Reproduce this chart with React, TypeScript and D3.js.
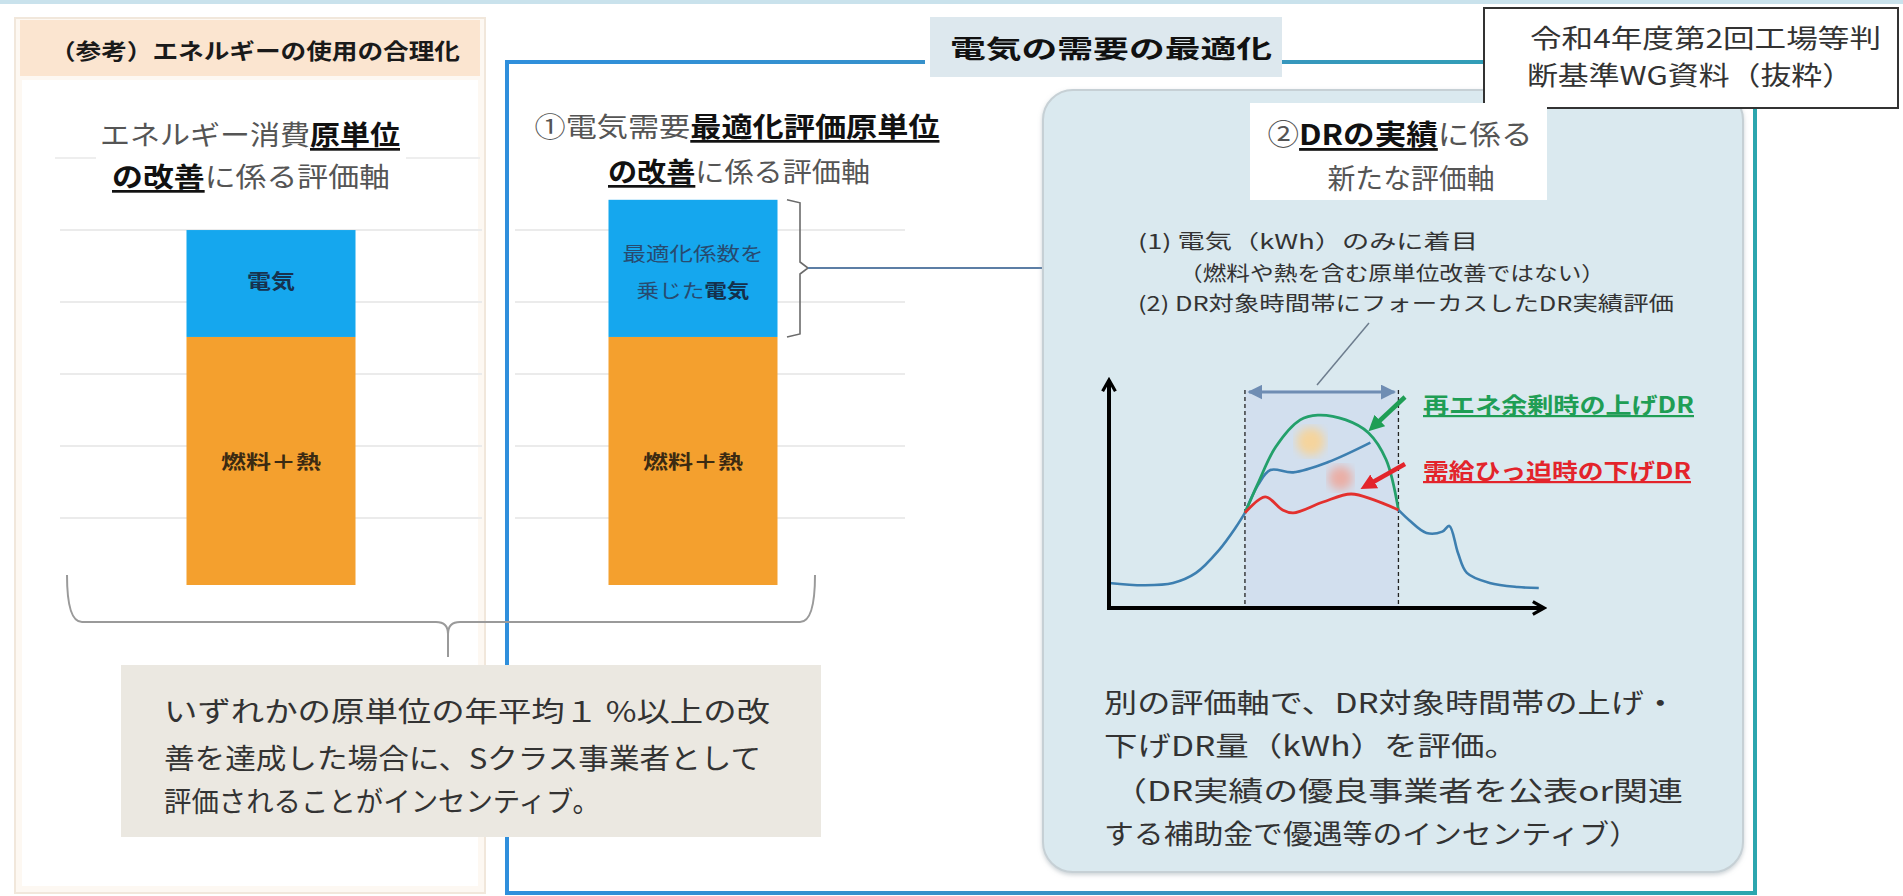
import React from 'react';
import * as d3 from 'd3';

const W = 1903;
const H = 896;
const FONT = '"Noto Sans CJK JP", "Noto Sans", sans-serif';

// ---- bar data (relative units) ----
const barCategories = ['energy', 'optimized'];
const fuelHeat = [68.9, 68.9];
const electricity = [29.7, 38.1];
const barLabelsElec = [['電気'], ['最適化係数を', '乗じた電気']];
const fuelLabel = '燃料＋熱';
const gridValues = [18.6, 38.6, 58.6, 78.6, 98.6];

// ---- DR load curve data: [hour, load] ----
const baseBefore: [number, number][] = [[0, 11], [2, 10], [3.65, 11], [4.96, 15.4], [6.27, 25.4], [7.24, 35.5], [7.75, 41.7]];
const baseDuring: [number, number][] = [[7.75, 41.7], [8.5, 54], [9.2, 60.5], [10.5, 59.5], [12.5, 64], [14.9, 72.5]];
const baseAfter: [number, number][] = [[16.5, 43], [17.1, 38.6], [18.1, 32.9], [19.0, 33.5], [19.4, 36], [19.9, 24], [20.4, 15.4], [21.7, 11], [23.3, 9.2], [24.5, 8.8]];
const upDR: [number, number][] = [[7.75, 41.7], [8.5, 54.8], [9.5, 70.6], [10.9, 82.5], [11.9, 84.6], [13.5, 82.5], [14.8, 76.8], [15.8, 65], [16.5, 43]];
const downDR: [number, number][] = [[7.75, 41.7], [8.9, 48.7], [9.9, 43], [10.5, 41.7], [12.2, 46.5], [13.8, 50], [15.1, 47.4], [16.5, 43]];
const drWindow = [7.75, 16.5];
const axisMax: [number, number] = [24.8, 100];

// ---- texts ----
const leftHeader = '（参考）エネルギーの使用の合理化';
const rightHeader = '電気の需要の最適化';
const noteLines = ['令和4年度第2回工場等判', '断基準WG資料（抜粋）'];
const leftBoxLines = ['いずれかの原単位の年平均１ %以上の改', '善を達成した場合に、Sクラス事業者として', '評価されることがインセンティブ。'];
const rightBoxLines = ['別の評価軸で、DR対象時間帯の上げ・', '下げDR量（kWh）を評価。', '（DR実績の優良事業者を公表or関連', 'する補助金で優遇等のインセンティブ）'];
const pointLines = ['(1) 電気（kWh）のみに着目', '（燃料や熱を含む原単位改善ではない）', '(2) DR対象時間帯にフォーカスしたDR実績評価'];
const upLabel = '再エネ余剰時の上げDR';
const downLabel = '需給ひっ迫時の下げDR';

const GRAY = '#555';
const DARK = '#111';

function T(props: any) {
  const { x, y, size, len, anchor = 'start', weight = 400, fill = '#333', children } = props;
  return (
    <text x={x} y={y} fontSize={size} fontFamily={FONT} fontWeight={weight} fill={fill}
      textAnchor={anchor} dominantBaseline="central"
      textLength={len} lengthAdjust={len ? 'spacingAndGlyphs' : undefined}>
      {children}
    </text>
  );
}

export default function App() {
  const yBar = d3.scaleLinear().domain([0, 100]).range([585, 225]);
  const xBar = d3.scalePoint<string>().domain(barCategories).range([271, 693]);
  const barW = 169;

  const xDR = d3.scaleLinear().domain([0, 24]).range([1109, 1530]);
  const yDR = d3.scaleLinear().domain([0, 100]).range([608, 380]);
  const line = d3.line<[number, number]>().x(d => xDR(d[0])).y(d => yDR(d[1])).curve(d3.curveCatmullRom.alpha(0.5));

  const x0 = xDR(0), y0 = yDR(0);
  const wx0 = xDR(drWindow[0]), wx1 = xDR(drWindow[1]);

  return (
    <svg width={W} height={H} style={{ position: 'absolute', left: 0, top: 0, background: '#fff' }}>
      <defs>
        <linearGradient id="frameGrad" gradientUnits="userSpaceOnUse" x1="505" y1="0" x2="1757" y2="0">
          <stop offset="0" stopColor="#2f8fdc" />
          <stop offset="0.5" stopColor="#3a92c2" />
          <stop offset="1" stopColor="#2ca6ae" />
        </linearGradient>
        <marker id="chev" viewBox="0 0 10 10" refX="8" refY="5" markerWidth="4" markerHeight="4" orient="auto">
          <path d="M1,1 L8,5 L1,9" fill="none" stroke="#000" strokeWidth="2" />
        </marker>
        <marker id="steel" viewBox="0 0 10 10" refX="9" refY="5" markerWidth="5" markerHeight="5" orient="auto-start-reverse">
          <path d="M0,0 L10,5 L0,10 z" fill="#6f8db3" />
        </marker>
        <marker id="steelSmall" viewBox="0 0 10 10" refX="9" refY="5" markerWidth="7" markerHeight="7" orient="auto">
          <path d="M0,1 L10,5 L0,9 z" fill="#5c80a8" />
        </marker>
        <marker id="greenHead" viewBox="0 0 10 10" refX="6" refY="5" markerWidth="3.5" markerHeight="3.5" orient="auto">
          <path d="M0,0 L10,5 L0,10 z" fill="#1f9e55" />
        </marker>
        <marker id="redHead" viewBox="0 0 10 10" refX="6" refY="5" markerWidth="3.5" markerHeight="3.5" orient="auto">
          <path d="M0,0 L10,5 L0,10 z" fill="#e3242b" />
        </marker>
        <filter id="blur6"><feGaussianBlur stdDeviation="5" /></filter>
        <filter id="shadow" x="-5%" y="-5%" width="110%" height="110%">
          <feDropShadow dx="0" dy="2" stdDeviation="2" floodColor="#9aa6ad" floodOpacity="0.5" />
        </filter>
      </defs>

      {/* top band */}
      <rect x={0} y={0} width={W} height={4} fill="#c9e2ec" />

      {/* ===== left panel ===== */}
      <rect x={15} y={18} width={470} height={875} fill="#fdf8f2" stroke="#f1e7db" strokeWidth={2} />
      <rect x={22} y={80} width={456} height={806} fill="#ffffff" />
      <rect x={20} y={20} width={460} height={56} fill="#fbe5d0" />
      <T x={255} y={49} size={22} len={410} anchor="middle" weight={700} fill="#1a1a1a">{leftHeader}</T>

      {/* grid lines */}
      <line x1={55} x2={480} y1={158} y2={158} stroke="#eeeeee" strokeWidth={2} />
      {gridValues.map((v, i) => (
        <g key={i}>
          <line x1={60} x2={482} y1={yBar(v)} y2={yBar(v)} stroke="#ebebeb" strokeWidth={2} />
          <line x1={515} x2={905} y1={yBar(v)} y2={yBar(v)} stroke="#ebebeb" strokeWidth={2} />
        </g>
      ))}

      {/* left title */}
      <rect x={96} y={108} width={310} height={92} fill="#fff" />
      <text x={250} y={133} fontSize={27} fontFamily={FONT} textAnchor="middle" dominantBaseline="central" textLength={300} lengthAdjust="spacingAndGlyphs" fill={GRAY}>
        エネルギー消費<tspan fontWeight={700} fill={DARK} textDecoration="underline">原単位</tspan>
      </text>
      <text x={251} y={175} fontSize={27} fontFamily={FONT} textAnchor="middle" dominantBaseline="central" textLength={278} lengthAdjust="spacingAndGlyphs" fill={GRAY}>
        <tspan fontWeight={700} fill={DARK} textDecoration="underline">の改善</tspan>に係る評価軸
      </text>

      {/* ===== middle frame (blue) ===== */}
      <path d={`M925,62 L507,62 L507,893 L1755,893 L1755,108`} fill="none" stroke="url(#frameGrad)" strokeWidth={4} />
      <line x1={1282} x2={1486} y1={62} y2={62} stroke="url(#frameGrad)" strokeWidth={4} />

      {/* middle title */}
      <rect x={530} y={100} width={415} height={95} fill="#fff" opacity={0.9} />
      <text x={737} y={125} fontSize={27} fontFamily={FONT} textAnchor="middle" dominantBaseline="central" textLength={405} lengthAdjust="spacingAndGlyphs" fill={GRAY}>
        ①電気需要<tspan fontWeight={700} fill={DARK} textDecoration="underline">最適化評価原単位</tspan>
      </text>
      <text x={739} y={170} fontSize={27} fontFamily={FONT} textAnchor="middle" dominantBaseline="central" textLength={262} lengthAdjust="spacingAndGlyphs" fill={GRAY}>
        <tspan fontWeight={700} fill={DARK} textDecoration="underline">の改善</tspan>に係る評価軸
      </text>

      {/* bars */}
      {barCategories.map((c, i) => {
        const cx = xBar(c) as number;
        const fuelTop = yBar(fuelHeat[i]);
        const elecTop = yBar(fuelHeat[i] + electricity[i]);
        const labels = barLabelsElec[i];
        const elecMid = (fuelTop + elecTop) / 2;
        return (
          <g key={c}>
            <rect x={cx - barW / 2} y={fuelTop} width={barW} height={yBar(0) - fuelTop} fill="#f4a02e" />
            <rect x={cx - barW / 2} y={elecTop} width={barW} height={fuelTop - elecTop} fill="#15a7ee" />
            <T x={cx} y={(fuelTop + yBar(0)) / 2} size={19} len={100} anchor="middle" weight={700} fill="#3b2a12">{fuelLabel}</T>
            {labels.length === 1 ? (
              <T x={cx} y={elecMid - 3} size={20} len={48} anchor="middle" weight={700} fill="#17324e">{labels[0]}</T>
            ) : (
              <g>
                <T x={cx} y={elecMid - 16} size={19} len={141} anchor="middle" fill="#274b70">{labels[0]}</T>
                <text x={cx} y={elecMid + 21} fontSize={19} fontFamily={FONT} textAnchor="middle" dominantBaseline="central" textLength={113} lengthAdjust="spacingAndGlyphs" fill="#274b70">
                  乗じた<tspan fontWeight={700} fill="#14304c">電気</tspan>
                </text>
              </g>
            )}
          </g>
        );
      })}

      {/* bracket right of middle bar + arrow */}
      <path d={`M787,${yBar(fuelHeat[1] + electricity[1])} L800,${yBar(fuelHeat[1] + electricity[1]) + 3} L800,262 L808,268 L800,274 L800,${yBar(fuelHeat[1]) - 3} L787,${yBar(fuelHeat[1])}`} fill="none" stroke="#6b6b6b" strokeWidth={1.6} />
      <line x1={808} x2={1120} y1={268} y2={268} stroke="#5c7ea5" strokeWidth={2} markerEnd="url(#steelSmall)" />

      {/* bottom brace */}
      <path d="M67,575 Q67,622 82,622 L436,622 Q448,622 448,634 L448,657 M448,634 Q448,622 460,622 L800,622 Q815,622 815,575" fill="none" stroke="#9a9a9a" strokeWidth={2} />

      {/* bottom-left box */}
      <rect x={121} y={665} width={700} height={172} fill="#ebe8e1" />
      {leftBoxLines.map((s, i) => (
        <T key={i} x={164} y={[710, 757, 800][i]} size={28} len={[606, 597, 436][i]} fill="#333">{s}</T>
      ))}

      {/* ===== right panel ===== */}
      <rect x={930} y={17} width={352} height={60} fill="#dde8ee" />
      <T x={1111} y={47} size={25} len={322} anchor="middle" weight={700} fill="#111">{rightHeader}</T>

      <rect x={1043} y={90} width={700} height={782} rx={30} ry={30} fill="#dae9ef" stroke="#c6d0d5" strokeWidth={2} filter="url(#shadow)" />

      {/* note box */}
      <rect x={1484} y={8} width={414} height={100} fill="#fff" stroke="#333" strokeWidth={2} />
      <T x={1530} y={36} size={26} len={351} fill="#333">{noteLines[0]}</T>
      <T x={1527} y={73} size={26} len={326} fill="#333">{noteLines[1]}</T>

      {/* ② title */}
      <rect x={1250} y={103} width={297} height={97} fill="#fff" />
      <text x={1400} y={133} fontSize={28} fontFamily={FONT} textAnchor="middle" dominantBaseline="central" textLength={265} lengthAdjust="spacingAndGlyphs" fill={GRAY}>
        ②<tspan fontWeight={700} fill={DARK} textDecoration="underline">DRの実績</tspan>に係る
      </text>
      <T x={1411} y={177} size={28} len={167} anchor="middle" fill={GRAY}>新たな評価軸</T>

      {/* points */}
      <T x={1138} y={240} size={20} len={340} fill="#333">{pointLines[0]}</T>
      <T x={1179} y={272} size={20} len={426} fill="#333">{pointLines[1]}</T>
      <T x={1138} y={302} size={20} len={536} fill="#333">{pointLines[2]}</T>

      {/* DR chart */}
      <rect x={wx0} y={yDR(95.6)} width={wx1 - wx0} height={y0 - yDR(95.6)} fill="#cfdbee" opacity={0.75} />
      <line x1={wx0} x2={wx0} y1={yDR(95.6)} y2={y0} stroke="#222" strokeWidth={1.3} strokeDasharray="4 3" />
      <line x1={wx1} x2={wx1} y1={yDR(95.6)} y2={y0} stroke="#222" strokeWidth={1.3} strokeDasharray="4 3" />
      <line x1={wx0 + 4} x2={wx1 - 4} y1={yDR(94.7)} y2={yDR(94.7)} stroke="#6f8db3" strokeWidth={3} markerStart="url(#steel)" markerEnd="url(#steel)" />
      <line x1={1369} y1={323} x2={1317} y2={385} stroke="#6d7d8e" strokeWidth={1.5} />

      <circle cx={xDR(11.5)} cy={yDR(73)} r={14} fill="#f5d49c" filter="url(#blur6)" />
      <circle cx={xDR(13.2)} cy={yDR(57)} r={12} fill="#eaaea5" filter="url(#blur6)" />

      <path d={line(baseBefore) || ''} fill="none" stroke="#3d7fb0" strokeWidth={2.6} />
      <path d={line(baseDuring) || ''} fill="none" stroke="#3d7fb0" strokeWidth={2.6} />
      <path d={line(baseAfter) || ''} fill="none" stroke="#3d7fb0" strokeWidth={2.6} />
      <path d={line(upDR) || ''} fill="none" stroke="#23a06a" strokeWidth={2.8} />
      <path d={line(downDR) || ''} fill="none" stroke="#e3302e" strokeWidth={2.8} />

      <line x1={x0} y1={y0} x2={x0} y2={yDR(axisMax[1])} stroke="#000" strokeWidth={4} markerEnd="url(#chev)" />
      <line x1={x0 - 2} y1={y0} x2={xDR(axisMax[0])} y2={y0} stroke="#000" strokeWidth={4} markerEnd="url(#chev)" />

      <line x1={1405} y1={397} x2={1373} y2={427} stroke="#1f9e55" strokeWidth={4.5} markerEnd="url(#greenHead)" />
      <line x1={1405} y1={464} x2={1366} y2={486} stroke="#e3242b" strokeWidth={4.5} markerEnd="url(#redHead)" />

      <T x={1423} y={403} size={22} len={271} weight={700} fill="#1f9e55"><tspan textDecoration="underline">{upLabel}</tspan></T>
      <T x={1423} y={469} size={22} len={268} weight={700} fill="#e3242b"><tspan textDecoration="underline">{downLabel}</tspan></T>

      {/* bottom-right text */}
      {rightBoxLines.map((s, i) => (
        <T key={i} x={[1104, 1104, 1112, 1104][i]} y={[701, 744, 789, 832][i]} size={27} len={[573, 414, 571, 535][i]} fill="#333">{s}</T>
      ))}
    </svg>
  );
}
